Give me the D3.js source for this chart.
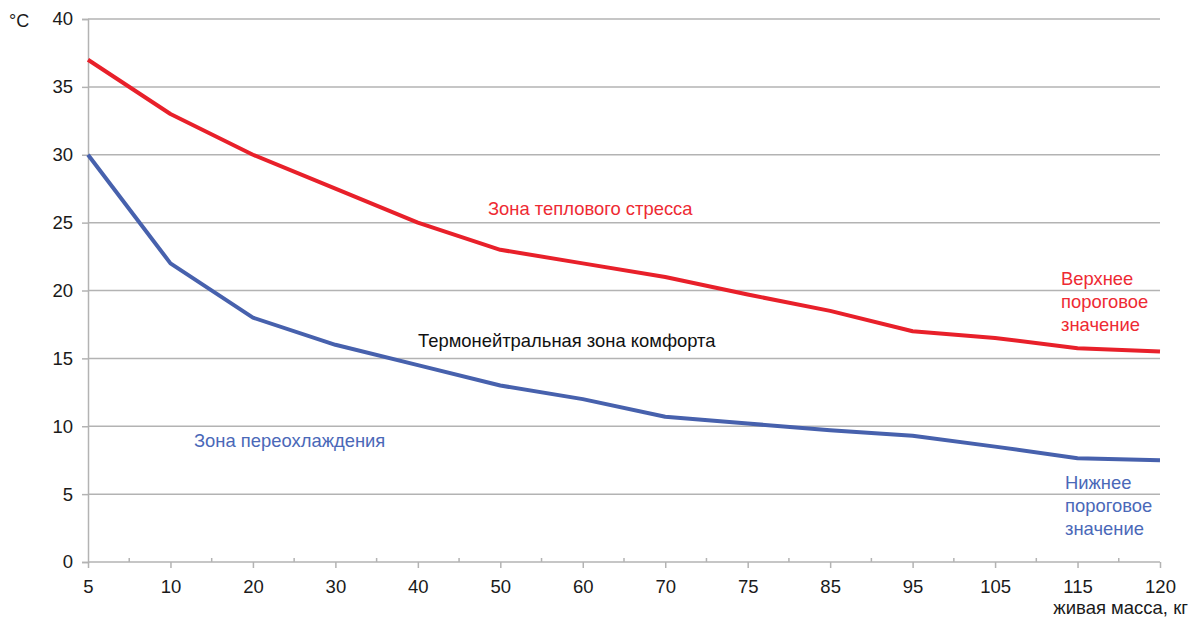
<!DOCTYPE html>
<html><head><meta charset="utf-8">
<script src="https://cdn.jsdelivr.net/npm/d3@7"></script>
<style>
html,body{margin:0;padding:0;background:#fff;}
text{font-family:"Liberation Sans",Arial,sans-serif;}
</style></head>
<body>
<svg id="chart" width="1190" height="617"></svg>
<script>
const categories = ["5","10","20","30","40","50","60","70","75","85","95","105","115","120"];
const upperValues = [37,33,30,27.5,25,23,22,21,19.7,18.5,17,16.5,15.75,15.5];
const lowerValues = [30,22,18,16,14.5,13,12,10.7,10.2,9.7,9.3,8.5,7.65,7.5];
const yTicks = [0,5,10,15,20,25,30,35,40];

const svg = d3.select("#chart");
const L = 88, R = 1160, T = 19, B = 562;
const x = d3.scalePoint().domain(categories).range([L, R]);
const y = d3.scaleLinear().domain([0, 40]).range([B, T]);
const gridColor = "#b3b3b3";

// gridlines
svg.append("g").selectAll("line").data(yTicks.filter(d => d > 0)).join("line")
  .attr("x1", L).attr("x2", R).attr("y1", d => y(d)).attr("y2", d => y(d))
  .attr("stroke", gridColor).attr("stroke-width", 1.5);

// y axis
const yAxis = svg.append("g").attr("transform", `translate(${L},0)`)
  .call(d3.axisLeft(y).tickValues(yTicks).tickSize(6).tickPadding(9));
yAxis.select(".domain").attr("stroke", gridColor).attr("stroke-width", 1.5);
yAxis.selectAll(".tick line").attr("stroke", gridColor).attr("stroke-width", 1.5);
yAxis.selectAll("text").attr("font-size", 18.5).attr("fill", "#1a1a1a")
  .attr("font-family", "Liberation Sans, Arial, sans-serif");

// x axis
const xAxis = svg.append("g").attr("transform", `translate(0,${B})`)
  .call(d3.axisBottom(x).tickSize(6).tickPadding(12).tickSizeOuter(0));
xAxis.select(".domain").attr("stroke", gridColor).attr("stroke-width", 1.5).attr("d", `M${L},0H${R}`);
xAxis.selectAll(".tick line").attr("stroke", gridColor).attr("stroke-width", 1.5);
xAxis.selectAll("text").attr("font-size", 18.5).attr("fill", "#1a1a1a")
  .attr("font-family", "Liberation Sans, Arial, sans-serif");

// minor ticks at midpoints
const mids = categories.slice(0, -1).map((c, i) => (x(c) + x(categories[i + 1])) / 2);
svg.append("g").selectAll("line").data(mids).join("line")
  .attr("x1", d => d).attr("x2", d => d).attr("y1", B - 4).attr("y2", B)
  .attr("stroke", gridColor).attr("stroke-width", 1.5);

// lines
const line = d3.line().x((d, i) => x(categories[i])).y(d => y(d));
svg.append("path").datum(lowerValues).attr("d", line).attr("fill", "none")
  .attr("stroke", "#4761ad").attr("stroke-width", 4).attr("stroke-linejoin", "round");
svg.append("path").datum(upperValues).attr("d", line).attr("fill", "none")
  .attr("stroke", "#e8202a").attr("stroke-width", 4).attr("stroke-linejoin", "round");

// texts
const red = "#ee2a33", blue = "#4a68b8";
function label(txt, xx, yy, color, anchor) {
  svg.append("text").attr("x", xx).attr("y", yy).attr("fill", color)
    .attr("font-size", 18.4).attr("text-anchor", anchor || "start").text(txt);
}
svg.append("text").attr("x", 9).attr("y", 27).attr("font-size", 18).attr("fill", "#1a1a1a").text("°C");
label("Зона теплового стресса", 488, 215, red);
label("Термонейтральная зона комфорта", 418, 347, "#111");
label("Зона переохлаждения", 194, 447, blue);
["Верхнее", "пороговое", "значение"].forEach((t, i) => label(t, 1061, 285 + i * 23, red));
["Нижнее", "пороговое", "значение"].forEach((t, i) => label(t, 1065, 489 + i * 23, blue));
svg.append("text").attr("x", 1188).attr("y", 614).attr("font-size", 18.5).attr("fill", "#1a1a1a")
  .attr("text-anchor", "end").text("живая масса, кг");
</script>
</body></html>
